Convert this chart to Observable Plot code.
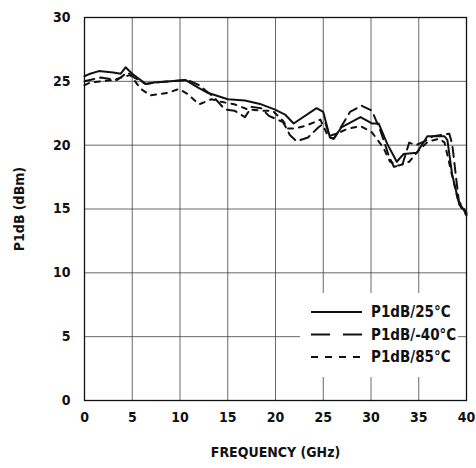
<!DOCTYPE html>
<html><head><meta charset="utf-8">
<script src="https://cdn.jsdelivr.net/npm/d3@7"></script>
<script src="https://cdn.jsdelivr.net/npm/@observablehq/plot@0.6"></script>
<style>
body{margin:0;background:#fff;}
#chart{position:relative;width:476px;height:468px;}
#chart text{font-stretch:condensed;}
#legend{position:absolute;left:300px;top:293px;width:158px;height:84px;background:#fff;}
</style></head><body><div id="chart"><div id="legend"></div></div>
<script>
// Series: P1dB/25°C
const freq25 = [0,0.6,1.5,3,3.8,4.3,5,6.4,7.3,9,10.6,11.9,12.9,15,16.8,18.5,19.9,21,21.9,24.3,25,25.7,26.1,26.9,28.9,30.1,30.8,31.7,32.7,33.4,34.8,35.9,37.7,38,38.5,39.2,40];
const p1db25 = [25.4,25.6,25.8,25.7,25.6,26.1,25.6,24.8,24.9,25.0,25.1,24.5,24.1,23.6,23.5,23.2,22.8,22.4,21.7,22.9,22.6,20.6,20.5,21.4,22.2,21.7,21.7,20.1,18.7,19.3,19.4,20.7,20.7,20.4,17.7,15.5,14.6];
// Series: P1dB/-40°C
const freqM40 = [0,1.7,3.4,4.5,5.2,6.4,7.3,9,10.8,12,13.5,14.7,15.7,16.8,17.5,18.5,19.3,20.8,21.5,22.2,23.4,24.5,25.2,25.7,26.1,26.6,27.8,29,30.1,31,31.9,32.4,33.3,34,34.7,35.6,36.5,38.2,38.5,39.2,40];
const p1dbM40 = [25.0,25.3,25.1,25.7,25.3,24.8,24.9,25.0,25.1,24.7,23.8,22.8,22.7,22.2,23.0,22.9,22.3,21.8,20.8,20.3,20.6,21.4,21.8,20.6,20.5,21.1,22.6,23.1,22.7,21.1,19.1,18.3,18.5,20.2,20.0,20.3,20.7,20.9,20.1,15.6,14.7];
// Series: P1dB/85°C
const freq85 = [0,0.6,1.7,3,4.8,5.9,6.9,8.7,9.9,10.8,12,13.3,14.3,15.7,17.1,18.7,19.7,20.8,21.3,22,23.1,24.7,25.5,26.4,27.6,28.9,30.1,31.3,32,32.9,34,35,36,37.2,37.7,38.5,39.2,40];
const p1db85 = [24.7,24.9,25.0,25.1,25.5,24.4,23.9,24.1,24.4,24.0,23.2,23.6,23.4,23.2,22.8,22.7,22.7,21.9,21.3,21.3,21.5,22.0,20.7,20.9,21.3,21.5,21.0,19.8,18.7,18.4,18.7,19.6,20.3,20.5,20.2,17.6,15.4,14.5];
const xTicks = [0,5,10,15,20,25,30,35,40];
const yTicks = [0,5,10,15,20,25,30];
const seriesNames = ["P1dB/25°C","P1dB/-40°C","P1dB/85°C"];
const dashes = [null,"10,6","5,6"];

const toRows = (fs, vs) => fs.map((f,i)=>({f, v: vs[i]}));
const series = [toRows(freq25,p1db25), toRows(freqM40,p1dbM40), toRows(freq85,p1db85)];

const font = '"DejaVu Sans",sans-serif';
const chart = Plot.plot({
  width: 476, height: 468,
  marginLeft: 84, marginRight: 10, marginTop: 17, marginBottom: 68,
  style: {fontFamily: font, fontSize: "14px", fontWeight: "bold", color: "#111", background: "#fff"},
  x: {domain: [0,40]},
  y: {domain: [0,30]},
  marks: [
    Plot.gridX(xTicks, {stroke: "#444", strokeOpacity: 0.8, strokeWidth: 1}),
    Plot.gridY(yTicks, {stroke: "#444", strokeOpacity: 0.8, strokeWidth: 1}),
    Plot.axisX(xTicks, {tickSize: 0, tickPadding: 12, fontSize: 14, fontWeight: "bold", label: "FREQUENCY (GHz)", labelAnchor: "center", labelArrow: "none", labelOffset: 56}),
    Plot.axisY(yTicks, {tickSize: 0, tickPadding: 14, fontSize: 14, fontWeight: "bold", label: "P1dB (dBm)", labelAnchor: "center", labelArrow: "none", labelOffset: 70}),
    ...series.map((rows,i) => Plot.line(rows, {x: "f", y: "v", stroke: "#111", strokeWidth: 2, strokeDasharray: dashes[i]})),
    Plot.frame({stroke: "#111", strokeWidth: 1.3})
  ]
});
document.getElementById("chart").insertBefore(chart, document.getElementById("legend"));

// legend
const lg = d3.select("#legend").append("svg").attr("width",158).attr("height",84);
seriesNames.forEach((name,i) => {
  const y = 19 + i*22.5;
  const ln = lg.append("line").attr("x1",11).attr("x2",62).attr("y1",y).attr("y2",y)
    .attr("stroke","#111").attr("stroke-width",2.2);
  if (i===1) ln.attr("stroke-dasharray","19,13");
  if (i===2) ln.attr("stroke-dasharray","7,7");
  lg.append("text").attr("x",71).attr("y",y).attr("dy","0.35em")
    .style("font-family",font).style("font-weight","bold").style("font-size","15px").style("font-stretch","condensed").attr("fill","#111").text(name);
});
</script></body></html>
